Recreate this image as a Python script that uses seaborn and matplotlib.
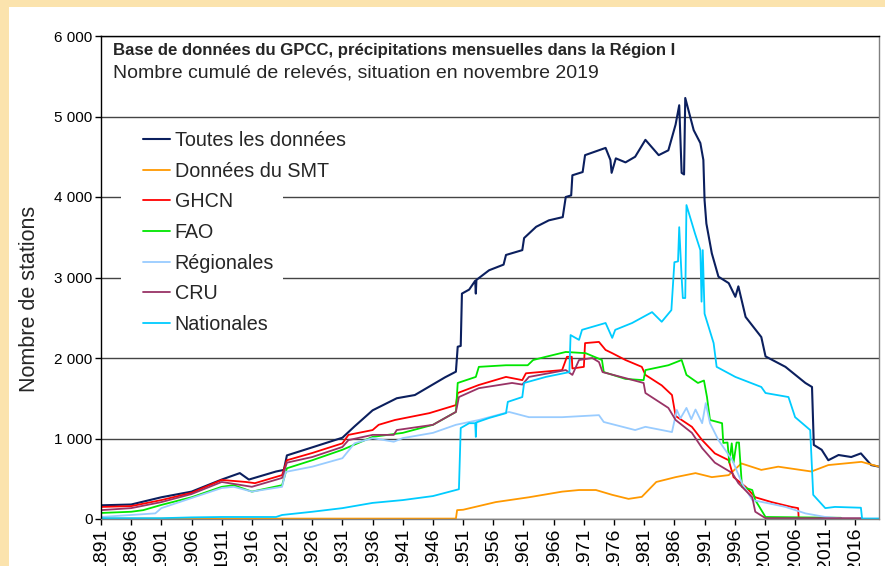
import matplotlib
matplotlib.use("Agg")
import matplotlib.pyplot as plt
from matplotlib.patches import Rectangle
from matplotlib.ticker import FuncFormatter
import numpy as np
import seaborn as sns

# ── Data: GPCC stations, Région I (decimal years) ──
toutes_years = [1891, 1896, 1901, 1906, 1911, 1914, 1915.5, 1920, 1921.3, 1921.8, 1926, 1931, 1933, 1936,
                1940, 1943, 1948, 1949.8, 1950.1, 1950.6, 1950.8, 1952, 1953, 1953.1, 1953.2, 1955.3,
                1957.7, 1958.1, 1960.8, 1961.1, 1963.1, 1965.2, 1967.5, 1968, 1968.9, 1969.1, 1970.8,
                1971.2, 1974.6, 1975.4, 1975.6, 1976.3, 1977.9, 1979.5, 1981.2, 1983.4, 1985, 1986.2,
                1986.8, 1987.2, 1987.6, 1987.8, 1989.2, 1990.3, 1990.8, 1991.0, 1991.3, 1992.2, 1993.3,
                1995, 1996.1, 1996.6, 1997.8, 2000.4, 2001.1, 2004.4, 2007.7, 2008.8, 2009.1, 2010.4,
                2011.5, 2013.2, 2015.3, 2016.9, 2018.6, 2019.9]
toutes_vals = [170, 180, 270, 340, 490, 570, 490, 590, 610, 790, 890, 1010, 1150, 1350,
               1500, 1540, 1760, 1830, 2140, 2150, 2800, 2850, 2960, 2800, 2970, 3090,
               3160, 3280, 3340, 3490, 3630, 3710, 3750, 4000, 4020, 4270, 4310,
               4520, 4610, 4460, 4300, 4480, 4430, 4500, 4710, 4520, 4580, 4900,
               5140, 4300, 4280, 5230, 4830, 4670, 4460, 3960, 3670, 3300, 3010,
               2930, 2760, 2890, 2510, 2260, 2020, 1890, 1690, 1640, 920, 860,
               730, 795, 770, 815, 670, 650]

smt_years = [1891, 1949.8, 1950.0, 1951, 1956.4, 1961.9, 1967.4, 1970.2, 1973, 1975.7, 1978.4, 1980.6,
             1983, 1986.2, 1989.5, 1992.2, 1995, 1997.1, 2000.4, 2003.2, 2008.7, 2011.5, 2017, 2019.9]
smt_vals = [5, 5, 110, 115, 210, 270, 340, 360, 360, 300, 250, 275,
            460, 520, 570, 520, 545, 690, 610, 650, 590, 670, 710, 650]

ghcn_years = [1891, 1896, 1901, 1906, 1911, 1915, 1916.5, 1921, 1921.8, 1926, 1931, 1932, 1936, 1937,
              1939.7, 1945.4, 1949.8, 1950.1, 1953.6, 1958.1, 1960.8, 1961.4, 1967.4, 1968.2, 1969.0,
              1969.1, 1971.0, 1971.2, 1973.5, 1974.6, 1975.7, 1977.9, 1980.6, 1981.2, 1983.9, 1985.6,
              1986.2, 1988.9, 1990.6, 1992.7, 1995, 1995.8, 1997.8, 1999.4, 2002.1, 2005.4, 2006.5,
              2006.6, 2019.9]
ghcn_vals = [150, 160, 235, 325, 485, 460, 445, 545, 730, 820, 940, 1045, 1105, 1170,
             1230, 1315, 1415, 1565, 1665, 1765, 1725, 1810, 1850, 2015, 2015,
             1870, 1890, 2185, 2200, 2100, 2060, 1975, 1890, 1790, 1660, 1540,
             1280, 1145, 980, 815, 730, 520, 400, 270, 210, 150, 135,
             0, 0]

fao_years = [1891, 1896, 1898, 1901, 1906, 1911, 1913, 1916, 1921, 1921.8, 1926, 1931, 1936, 1941,
             1946, 1949.8, 1950.1, 1953.1, 1953.6, 1958.1, 1961.7, 1962.6, 1964.7, 1968, 1971.3, 1974,
             1974.3, 1977.9, 1980.9, 1981.2, 1985, 1987.2, 1988, 1989.9, 1990.9, 1991.4, 1991.9,
             1993.9, 1994.1, 1994.8, 1995.1, 1995.5, 1995.8, 1996.3, 1996.7, 1997.2, 1998.9, 1999.4,
             2001.1, 2013.6, 2013.7, 2019.9]
fao_vals = [75, 90, 110, 175, 270, 400, 420, 340, 420, 630, 730, 860, 1020, 1070,
            1170, 1330, 1690, 1765, 1890, 1910, 1910, 1975, 2015, 2075, 2060, 1975,
            1825, 1740, 1725, 1850, 1910, 1975, 1790, 1690, 1720, 1515, 1230,
            1190, 945, 950, 700, 940, 700, 950, 950, 400, 360, 235,
            25, 15, 0, 0]

reg_years = [1891, 1896, 1900, 1901, 1906, 1911, 1913, 1916, 1921, 1921.6, 1926, 1931, 1933, 1936,
             1939.5, 1941, 1946, 1949.8, 1953.6, 1958.6, 1961.9, 1967.4, 1973.5, 1974.3, 1979.5,
             1981.2, 1985.6, 1986.4, 1987, 1988, 1988.8, 1989.5, 1990.6, 1991.2, 1991.9, 1993.3,
             1995.6, 1997.2, 1998.9, 2001.6, 2004.4, 2007.7, 2011, 2014.3, 2019.9]
reg_vals = [25, 50, 70, 135, 260, 385, 400, 340, 400, 585, 650, 755, 940, 1005,
            960, 1005, 1070, 1170, 1230, 1330, 1265, 1265, 1290, 1205, 1105,
            1145, 1080, 1355, 1250, 1380, 1240, 1360, 1190, 1440, 1190, 980,
            730, 445, 235, 195, 150, 70, 25, 5, 5]

cru_years = [1891, 1896, 1901, 1906, 1911, 1916, 1921, 1921.8, 1926, 1931, 1932, 1936, 1939.5, 1940,
             1946, 1949.8, 1950.3, 1953.6, 1959.1, 1960.8, 1961.9, 1968, 1969.1, 1970.2, 1972.4,
             1973.5, 1974.1, 1977.9, 1980.9, 1981.2, 1985, 1986.2, 1988.9, 1990.6, 1992.7, 1995.6,
             1996.6, 1998.9, 1999.4, 2001.1, 2016.9, 2017, 2019.9]
cru_vals = [110, 135, 210, 310, 460, 400, 510, 700, 770, 895, 980, 1045, 1045, 1105,
            1170, 1330, 1515, 1625, 1690, 1670, 1765, 1850, 1790, 1975, 2000,
            1950, 1825, 1750, 1690, 1565, 1380, 1230, 1070, 880, 700, 570,
            445, 270, 90, 10, 10, 0, 0]

nat_years = [1891, 1901, 1906, 1911, 1920, 1921, 1926, 1931, 1936, 1941, 1946, 1949.8, 1950.3, 1950.6,
             1952, 1953, 1953.1, 1953.2, 1955.3, 1958.1, 1958.4, 1960.8, 1961.1, 1964.7, 1968.6,
             1968.8, 1970.2, 1970.7, 1974.6, 1975.7, 1976.2, 1979, 1982.3, 1983.9, 1985.5, 1986,
             1986.6, 1986.8, 1987.2, 1987.4, 1987.8, 1988, 1989.4, 1990.3, 1990.5, 1990.7, 1991.0,
             1992.5, 1993, 1996.1, 2000.4, 2001.1, 2004.9, 2006, 2008.5, 2009, 2011, 2012.6, 2016.9,
             2017.1, 2019.9]
nat_vals = [10, 10, 20, 25, 25, 50, 90, 135, 200, 235, 285, 360, 370, 1130,
            1190, 1190, 1020, 1200, 1255, 1315, 1455, 1515, 1690, 1765, 1825,
            2285, 2225, 2350, 2435, 2250, 2350, 2435, 2570, 2450, 2595, 3190,
            3200, 3625, 3000, 2745, 2745, 3900, 3550, 3340, 2700, 3340, 2550,
            2185, 1890, 1765, 1640, 1565, 1515, 1265, 1105, 300, 135, 150, 140,
            5, 5]

series = [
    ("Toutes les données", toutes_years, toutes_vals, "#0b1f5e", 1.5),
    ("Données du SMT", smt_years, smt_vals, "#ff9900", 1.3),
    ("GHCN", ghcn_years, ghcn_vals, "#ff0000", 1.3),
    ("FAO", fao_years, fao_vals, "#00e600", 1.3),
    ("Régionales", reg_years, reg_vals, "#99ccff", 1.3),
    ("CRU", cru_years, cru_vals, "#993366", 1.3),
    ("Nationales", nat_years, nat_vals, "#00ccff", 1.3),
]
tick_years = list(range(1891, 2017, 5))

# ── Figure ────────────────────────────────────────────────
sns.set_theme(style="white")
plt.rcParams["font.family"] = ["Liberation Sans", "DejaVu Sans"]

W, H = 885, 566
fig = plt.figure(figsize=(W / 100, H / 100), dpi=100, facecolor="#fbe3ad")
fig.patches.append(Rectangle((9 / W, 0), 1, 1 - 7 / H, transform=fig.transFigure,
                             facecolor="white", edgecolor="none", zorder=-1))
ax = fig.add_axes([101 / W, 47 / H, 778 / W, 483 / H])

for name, xs, ys, c, lw in series:
    sns.lineplot(x=xs, y=ys, ax=ax, color=c, lw=lw, label=name, estimator=None, sort=False)

ax.set_xlim(1891, 2019.9)
ax.set_ylim(0, 6000)
ax.set_xticks(tick_years)
ax.set_xticklabels([str(y) for y in tick_years], rotation=90, fontsize=14)
ax.set_yticks(range(0, 6001, 1000))
ax.yaxis.set_major_formatter(FuncFormatter(lambda v, p: f"{int(v):,}".replace(",", " ")))
ax.tick_params(axis="y", labelsize=11)
ax.tick_params(axis="both", direction="out", length=4, width=1, color="black", pad=2,
               bottom=True, left=True, labelcolor="black")
ax.set_xlabel("")
ax.set_ylabel("")

ax.set_axisbelow(True)
ax.yaxis.grid(True, color="#444444", lw=1.0)
ax.xaxis.grid(False)
for side in ["left", "top"]:
    ax.spines[side].set_color("black")
for side in ["right", "bottom"]:
    ax.spines[side].set_color("#808080")
for s in ax.spines.values():
    s.set_linewidth(1.0)

# white box behind the legend hides the grid lines
ax.add_patch(Rectangle(((121 - 101) / 778, (519 - 340) / 483), (283 - 121) / 778, (340 - 122) / 483,
                       transform=ax.transAxes, facecolor="white", edgecolor="none", zorder=1.5))
ax.legend(loc="upper left", bbox_to_anchor=((143 - 101) / 778, (519 - 131) / 483), frameon=False,
          fontsize=14.2, handlelength=1.35, handletextpad=0.25, labelspacing=0.59,
          borderpad=0, borderaxespad=0)

ax.text((113 - 101) / 778, (519 - 50) / 483,
        "Base de données du GPCC, précipitations mensuelles dans la Région I",
        transform=ax.transAxes, fontsize=12.1, weight="bold", va="center", ha="left")
ax.text((113 - 101) / 778, (519 - 73) / 483,
        "Nombre cumulé de relevés, situation en novembre 2019",
        transform=ax.transAxes, fontsize=14, va="center", ha="left")

fig.text(30 / W, 1 - 299 / H, "Nombre de stations", rotation=90, fontsize=15.5,
         va="center", ha="center")

fig.savefig("out.png", dpi=100)
